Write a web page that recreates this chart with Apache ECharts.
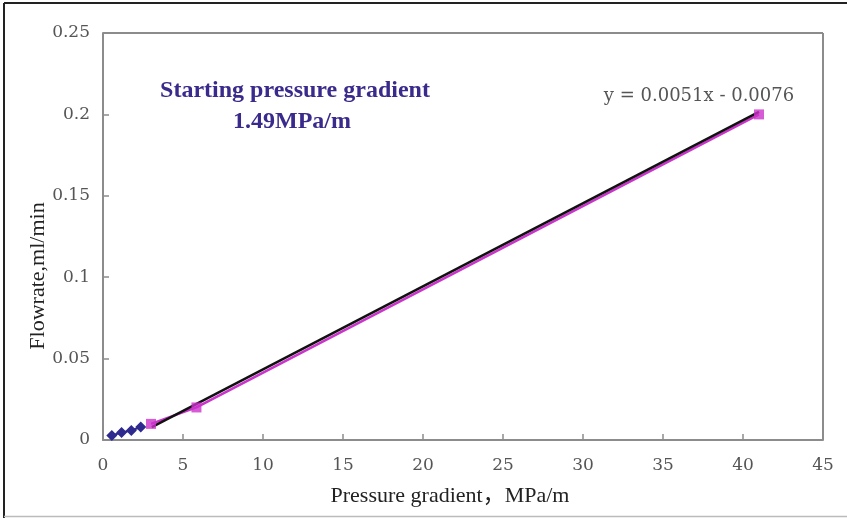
<!DOCTYPE html>
<html>
<head>
<meta charset="utf-8">
<script src="https://cdn.jsdelivr.net/npm/echarts@6/dist/echarts.min.js"></script>
<style>
  html, body { margin: 0; padding: 0; background: #fff; }
  #chart { width: 847px; height: 518px; }
</style>
</head>
<body>
<div id="chart"></div>
<script>
// Low-gradient measurements (below the starting pressure gradient)
const lowGradient = [0.55, 1.16, 1.77, 2.36];
const lowFlow = [0.0028, 0.0046, 0.0058, 0.0080];

// Linear-flow measurements
const highGradient = [3.0, 5.84, 41.0];
const highFlow = [0.0099, 0.0200, 0.2000];

// Linear fit shown on the chart: y = 0.0051x - 0.0076
const fitSlope = 0.0051;
const fitIntercept = -0.0076;
const fitRange = [3.05, 41.0];

const xTicks = [0, 5, 10, 15, 20, 25, 30, 35, 40, 45];
const yTicks = [0, 0.05, 0.1, 0.15, 0.2, 0.25];

const pairs = (xs, ys) => xs.map((x, i) => [x, ys[i]]);
const fitLine = fitRange.map(x => [x, fitSlope * x + fitIntercept]);

const serif = '"Liberation Serif", "Noto Sans CJK SC", serif';
const numFont = '"DejaVu Serif", serif';
const chart = echarts.init(document.getElementById('chart'));

chart.setOption({
  animation: false,
  backgroundColor: '#fff',
  grid: { left: 103, right: 24, top: 33, bottom: 78, containLabel: false },
  xAxis: {
    type: 'value',
    min: xTicks[0], max: xTicks[xTicks.length - 1], interval: 5,
    axisLine: { show: true, lineStyle: { color: '#8c8c8c', width: 2 } },
    axisTick: { show: true, inside: true, length: 6, lineStyle: { color: '#8c8c8c', width: 1.5 } },
    axisLabel: { color: '#555', fontFamily: numFont, fontSize: 17, margin: 17 },
    splitLine: { show: false }
  },
  yAxis: {
    type: 'value',
    min: yTicks[0], max: yTicks[yTicks.length - 1], interval: 0.05,
    axisLine: { show: true, lineStyle: { color: '#8c8c8c', width: 2 } },
    axisTick: { show: true, inside: true, length: 6, lineStyle: { color: '#8c8c8c', width: 1.5 } },
    axisLabel: { color: '#555', fontFamily: numFont, fontSize: 17, margin: 13 },
    splitLine: { show: false }
  },
  graphic: [
    // outer frame edges
    { type: 'line', shape: { x1: 4, y1: 3, x2: 847, y2: 3 }, style: { stroke: '#222', lineWidth: 2 } },
    { type: 'line', shape: { x1: 4, y1: 3, x2: 4, y2: 518 }, style: { stroke: '#222', lineWidth: 2 } },
    { type: 'line', shape: { x1: 4, y1: 516.5, x2: 847, y2: 516.5 }, style: { stroke: '#bbb', lineWidth: 1.5 } },
    // plot frame top and right
    { type: 'line', shape: { x1: 103, y1: 33, x2: 823, y2: 33 }, style: { stroke: '#8c8c8c', lineWidth: 2 } },
    { type: 'line', shape: { x1: 823, y1: 33, x2: 823, y2: 440 }, style: { stroke: '#8c8c8c', lineWidth: 2 } },
    // axis titles
    { type: 'text', x: 450, y: 496, style: { text: 'Pressure gradient，MPa/m', font: '22px ' + serif, fill: '#222', textAlign: 'center', textVerticalAlign: 'middle' } },
    { type: 'text', x: 38, y: 276, rotation: Math.PI / 2, style: { text: 'Flowrate,ml/min', font: '22px ' + serif, fill: '#222', textAlign: 'center', textVerticalAlign: 'middle' } },
    // annotation
    { type: 'text', x: 295, y: 91, style: { text: 'Starting pressure gradient', font: 'bold 24px ' + serif, fill: '#3a2a8c', textAlign: 'center', textVerticalAlign: 'middle' } },
    { type: 'text', x: 292, y: 122, style: { text: '1.49MPa/m', font: 'bold 24px ' + serif, fill: '#3a2a8c', textAlign: 'center', textVerticalAlign: 'middle' } },
    // fit equation
    { type: 'text', x: 699, y: 96, style: { text: 'y = 0.0051x - 0.0076', font: '18px ' + numFont, fill: '#555', textAlign: 'center', textVerticalAlign: 'middle' } }
  ],
  series: [
    {
      type: 'line', data: pairs(lowGradient, lowFlow), z: 4,
      lineStyle: { color: '#2e2a8e', width: 2 },
      symbol: 'diamond', symbolSize: 11, showSymbol: true,
      itemStyle: { color: '#2e2a8e' }
    },
    {
      type: 'line', data: pairs(highGradient, highFlow), z: 2,
      lineStyle: { color: '#cc33cc', width: 2.5 },
      showSymbol: false, symbol: 'none'
    },
    {
      type: 'line', data: fitLine, z: 3,
      lineStyle: { color: '#111', width: 2.5 },
      showSymbol: false, symbol: 'none'
    },
    {
      type: 'scatter', data: pairs(highGradient, highFlow), z: 5,
      symbol: 'rect', symbolSize: 10,
      itemStyle: { color: '#cc33cc' }
    }
  ]
});
</script>
</body>
</html>
